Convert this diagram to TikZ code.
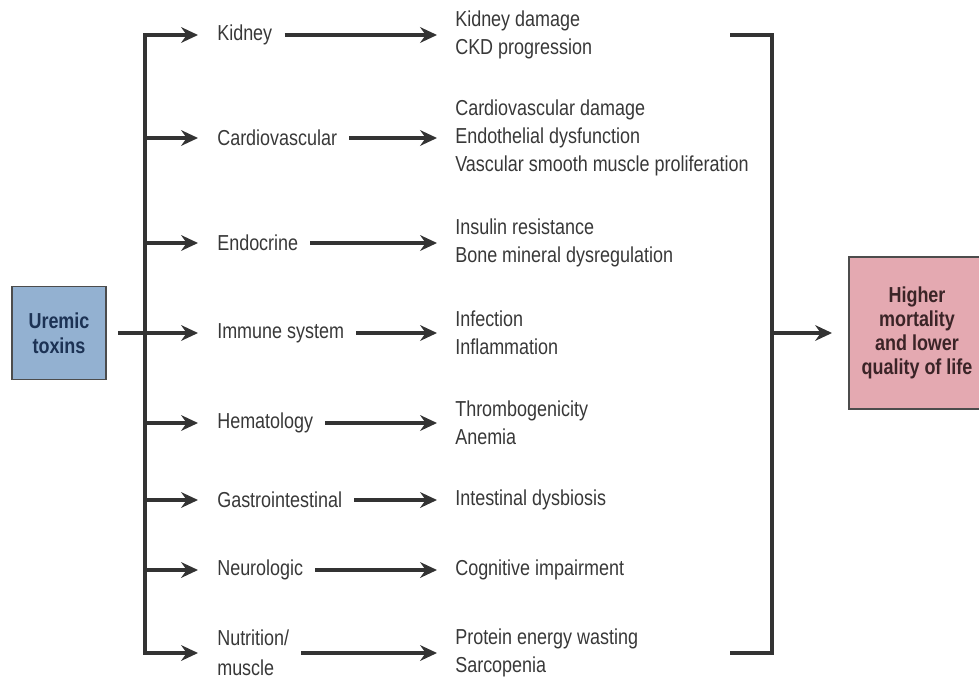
\documentclass[tikz,border=0pt]{standalone}
\usepackage{fontspec}
\setmainfont[FakeStretch=0.83]{Liberation Sans}
\usepackage{xcolor}
\usetikzlibrary{arrows.meta}

\definecolor{toxblue}{HTML}{93B1D1}
\definecolor{toxtext}{HTML}{1C3254}
\definecolor{outpink}{HTML}{E4A9B1}
\definecolor{outtext}{HTML}{3B2427}
\definecolor{ink}{HTML}{383838}

\begin{document}
\begin{tikzpicture}[
  x=0.25mm, y=-0.25mm,
  sys/.style={
    anchor=west, inner sep=0pt, text=ink, align=left,
    font=\fontsize{15.4pt}{21pt}\selectfont
  },
  eff/.style={
    anchor=west, inner sep=0pt, text=ink, align=left,
    font=\fontsize{15.4pt}{20pt}\selectfont
  },
  toxbox/.style={
    draw=black!70, line width=1.4pt, fill=toxblue, text=toxtext,
    minimum width=23.5mm, minimum height=23.25mm, align=center,
    font=\bfseries\fontsize{15.4pt}{18pt}\selectfont
  },
  outbox/.style={
    draw=black!70, line width=1.4pt, fill=outpink, text=outtext,
    minimum width=34mm, minimum height=38mm, align=center,
    font=\bfseries\fontsize{15.4pt}{17pt}\selectfont
  },
  wire/.style={draw=black!80, line width=2.2pt},
  arr/.style={-{Stealth[length=4.2mm, width=3.9mm]}, draw=black!80, line width=2.2pt},
]
\useasboundingbox (0,0) rectangle (979,679);

\node[toxbox] (tox) at (59,333) {Uremic\\toxins};
\node[outbox] (out) at (917,333) {Higher\\mortality\\and lower\\quality of life};

\node[sys] (s1) at (217,35)  {Kidney};
\node[sys] (s2) at (217,138) {Cardiovascular};
\node[sys] (s3) at (217,243) {Endocrine};
\node[sys] (s4) at (217,333) {Immune system};
\node[sys] (s5) at (217,423) {Hematology};
\node[sys] (s6) at (217,500) {Gastrointestinal};
\node[sys] (s7) at (217,570) {Neurologic};
\node[sys] (s8) at (217,653) {Nutrition/\\muscle};

\node[eff] (o1) at (455,35)  {Kidney damage\\CKD progression};
\node[eff] (o2) at (455,138) {Cardiovascular damage\\Endothelial dysfunction\\Vascular smooth muscle proliferation};
\node[eff] (o3) at (455,243) {Insulin resistance\\Bone mineral dysregulation};
\node[eff] (o4) at (455,333) {Infection\\Inflammation};
\node[eff] (o5) at (455,423) {Thrombogenicity\\Anemia};
\node[eff] (o6) at (455,500) {Intestinal dysbiosis};
\node[eff] (o7) at (455,570) {Cognitive impairment};
\node[eff] (o8) at (455,653) {Protein energy wasting\\Sarcopenia};

\coordinate (t1) at (145,35);
\coordinate (t2) at (145,138);
\coordinate (t3) at (145,243);
\coordinate (t5) at (145,423);
\coordinate (t6) at (145,500);
\coordinate (t7) at (145,570);
\coordinate (t8) at (145,653);

\coordinate (b1) at (730,35);
\coordinate (b2) at (772,35);
\coordinate (b3) at (772,653);
\coordinate (b4) at (730,653);
\coordinate (bm) at (772,333);

\draw[wire, line cap=rect] (t1) -- (t8);
\draw[arr, shorten >=4.75mm] (t1) -- (s1.west);
\draw[arr, shorten >=4.75mm] (t2) -- (s2.west);
\draw[arr, shorten >=4.75mm] (t3) -- (s3.west);
\draw[arr, shorten <=2.75mm, shorten >=4.75mm] (tox.east) -- (tox.east -| s4.west);
\draw[arr, shorten >=4.75mm] (t5) -- (s5.west);
\draw[arr, shorten >=4.75mm] (t6) -- (s6.west);
\draw[arr, shorten >=4.75mm] (t7) -- (s7.west);
\draw[arr, shorten >=4.75mm] (t8) -- (s8.west);

\draw[arr, shorten <=3mm, shorten >=4.5mm] (s1.east) -- (o1.west);
\draw[arr, shorten <=3mm, shorten >=4.5mm] (s2.east) -- (o2.west);
\draw[arr, shorten <=3mm, shorten >=4.5mm] (s3.east) -- (o3.west);
\draw[arr, shorten <=3mm, shorten >=4.5mm] (s4.east) -- (o4.west);
\draw[arr, shorten <=3mm, shorten >=4.5mm] (s5.east) -- (o5.west);
\draw[arr, shorten <=3mm, shorten >=4.5mm] (s6.east) -- (o6.west);
\draw[arr, shorten <=3mm, shorten >=4.5mm] (s7.east) -- (o7.west);
\draw[arr, shorten <=3mm, shorten >=4.5mm] (s8.east) -- (o8.west);

\draw[wire] (b1) -- (b2) -- (b3) -- (b4);
\draw[arr, shorten >=4mm] (bm) -- (out.west);

\end{tikzpicture}
\end{document}
